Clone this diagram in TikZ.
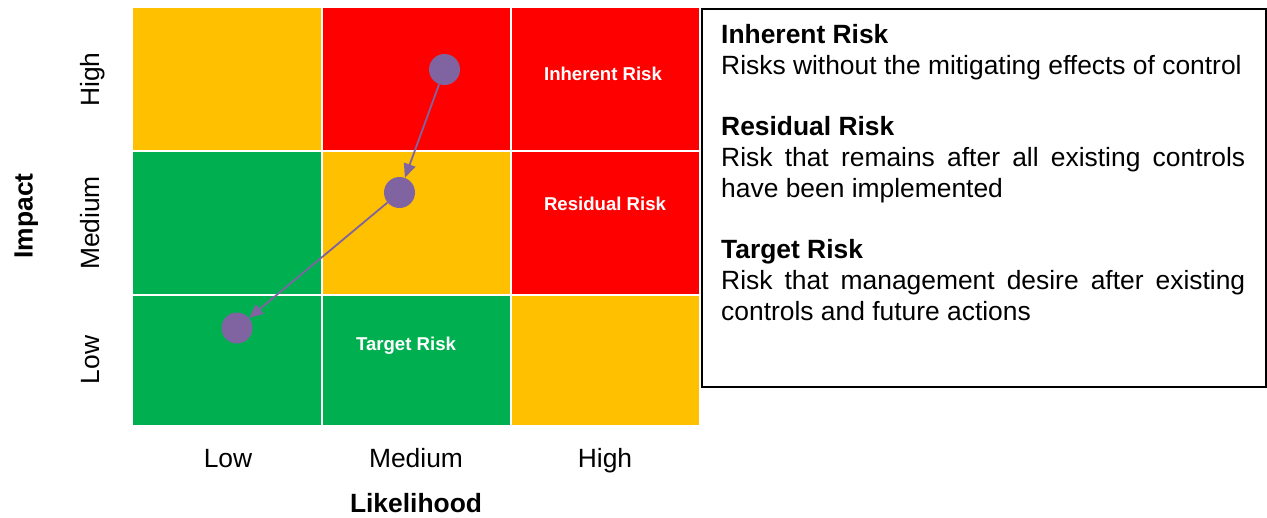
\documentclass[tikz,border=0pt]{standalone}
\usepackage{fontspec}
\setmainfont{Liberation Sans}
\usetikzlibrary{arrows.meta}
\definecolor{rOrange}{HTML}{FFC000}
\definecolor{rRed}{HTML}{FF0000}
\definecolor{rGreen}{HTML}{00B050}
\definecolor{rPurple}{HTML}{8064A2}
\begin{document}
\begin{tikzpicture}[x=1pt,y=-1pt,
 gridline/.style={draw=white, line width=1.5pt},
 celllabel/.style={text=white, font=\bfseries\fontsize{18.6}{22}\selectfont, inner sep=0pt},
 axislabel/.style={font=\fontsize{26.4}{30}\selectfont, inner sep=0pt, anchor=base},
 axistitle/.style={font=\bfseries\fontsize{26.4}{30}\selectfont, inner sep=0pt, anchor=base},
 dot/.style={circle, fill=rPurple, minimum size=31pt, inner sep=0pt},
 move/.style={draw=rPurple, line width=1.8pt, -{Triangle[length=14pt,width=12pt]}},
 legendframe/.style={draw=black, line width=1.5pt, minimum width=564pt, minimum height=378pt, inner sep=0pt, anchor=north west},
 legendtext/.style={anchor=north west, inner sep=0pt, text width=524pt, align=justify,
   font=\fontsize{26.4}{31}\selectfont},
]
\useasboundingbox (0,0) rectangle (1267,517);
% cells
\fill[rOrange] (133,8) rectangle (322,151);
\fill[rRed]    (322,8) rectangle (511,151);
\fill[rRed]    (511,8) rectangle (699,151);
\fill[rGreen]  (133,151) rectangle (322,295);
\fill[rOrange] (322,151) rectangle (511,295);
\fill[rRed]    (511,151) rectangle (699,295);
\fill[rGreen]  (133,295) rectangle (322,425);
\fill[rGreen]  (322,295) rectangle (511,425);
\fill[rOrange] (511,295) rectangle (699,425);
% grid lines
\draw[gridline] (322,8) -- (322,425);
\draw[gridline] (511,8) -- (511,425);
\draw[gridline] (133,151) -- (699,151);
\draw[gridline] (133,295) -- (699,295);
% cell labels
\node[celllabel] (lblinh) at (603,74) {Inherent Risk};
\node[celllabel] (lblres) at (605,204) {Residual Risk};
\node[celllabel] (lbltar) at (406,345.5) {Target Risk};
% axis labels
\node[axislabel] (xlow) at (228,467) {Low};
\node[axislabel] (xmed) at (416,467) {Medium};
\node[axislabel] (xhigh) at (605,467) {High};
\node[axistitle] (xtitle) at (416,512.5) {Likelihood};
\node[axislabel, rotate=90] (yhigh) at (99,79.5) {High};
\node[axislabel, rotate=90] (ymed) at (99,223) {Medium};
\node[axislabel, rotate=90] (ylow) at (99,360) {Low};
\node[axistitle, rotate=90] (ytitle) at (32.5,216) {Impact};
% dots and arrows
\node[dot] (inh) at (444.5,69.5) {};
\node[dot] (res) at (399.5,192.5) {};
\node[dot] (tar) at (237,328) {};
\draw[move] (inh) -- (res);
\draw[move] (res) -- (tar);
% legend
\node[legendframe] (legend) at (701,8) {};
\node[legendtext] (legendtxt) at (721,24.5) {\parindent=0pt\hyphenpenalty=10000\exhyphenpenalty=10000
\textbf{Inherent Risk}\par
Risks without the mitigating effects of control\par\vskip 30pt
\textbf{Residual Risk}\par
Risk that remains after all existing controls have been implemented\par\vskip 30pt
\textbf{Target Risk}\par
Risk that management desire after existing controls and future actions\par};
\end{tikzpicture}
\end{document}
